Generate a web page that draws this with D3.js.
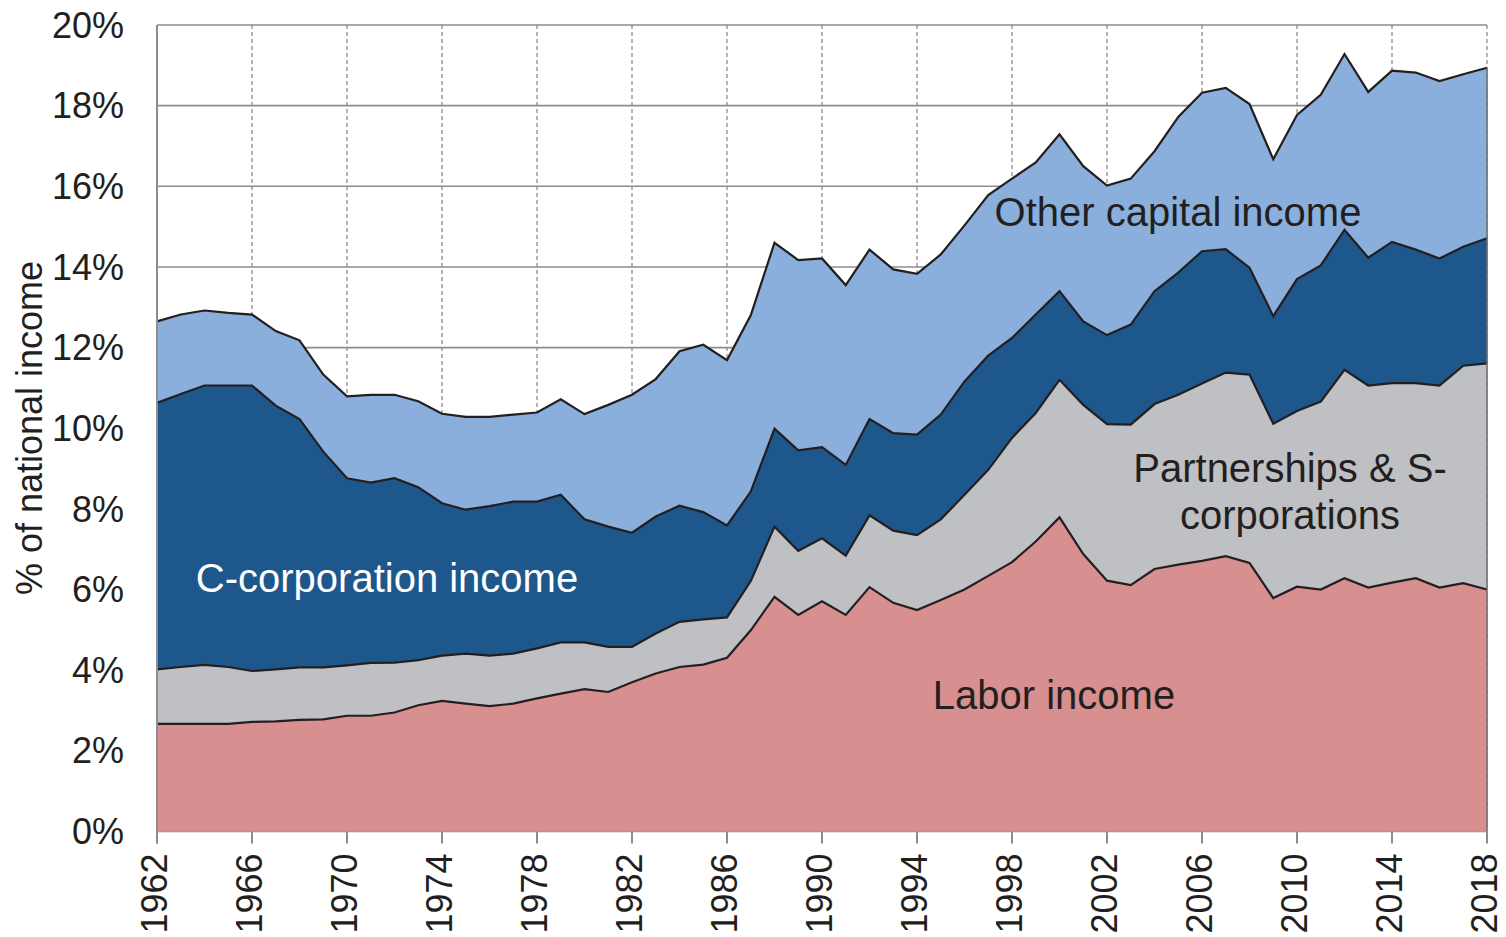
<!DOCTYPE html>
<html>
<head>
<meta charset="utf-8">
<script src="https://cdn.jsdelivr.net/npm/d3@7"></script>
<style>
  body { margin: 0; background: #fff; }
  svg { display: block; font-family: "Liberation Sans", Arial, sans-serif; }
</style>
</head>
<body>
<div id="chart"></div>
<script>

///////////////////////////////////////////////////////////////////////////
///////////////////////////////// Data ////////////////////////////////////
///////////////////////////////////////////////////////////////////////////

var years = d3.range(1962, 2019)

// share of national income, % (each layer's own thickness)
var labor = [2.67, 2.67, 2.67, 2.67, 2.72, 2.73, 2.77, 2.78, 2.87, 2.87,
  2.95, 3.13, 3.24, 3.17, 3.11, 3.17, 3.30, 3.42, 3.53, 3.46,
  3.70, 3.92, 4.08, 4.14, 4.31, 4.99, 5.82, 5.37, 5.71, 5.37,
  6.06, 5.67, 5.49, 5.74, 6.00, 6.34, 6.68, 7.19, 7.79, 6.88,
  6.22, 6.11, 6.51, 6.62, 6.71, 6.83, 6.66, 5.79, 6.07, 6.00,
  6.28, 6.05, 6.17, 6.28, 6.05, 6.16, 6.00]

var partnerships = [1.35, 1.41, 1.46, 1.41, 1.26, 1.29, 1.30, 1.29, 1.25, 1.31,
  1.24, 1.12, 1.12, 1.24, 1.25, 1.24, 1.24, 1.27, 1.16, 1.12,
  0.88, 0.99, 1.12, 1.12, 1.00, 1.22, 1.74, 1.59, 1.56, 1.47,
  1.78, 1.79, 1.86, 2.00, 2.35, 2.63, 3.08, 3.19, 3.41, 3.70,
  3.88, 3.98, 4.09, 4.21, 4.40, 4.55, 4.67, 4.32, 4.36, 4.66,
  5.17, 5.01, 4.95, 4.84, 5.01, 5.39, 5.61]

var ccorp = [6.61, 6.77, 6.93, 6.98, 7.08, 6.54, 6.16, 5.35, 4.64, 4.47,
  4.57, 4.29, 3.78, 3.57, 3.71, 3.77, 3.64, 3.66, 3.05, 2.98,
  2.83, 2.90, 2.88, 2.66, 2.28, 2.22, 2.43, 2.49, 2.26, 2.25,
  2.39, 2.42, 2.49, 2.60, 2.81, 2.83, 2.48, 2.44, 2.20, 2.07,
  2.21, 2.48, 2.80, 3.03, 3.28, 3.06, 2.65, 2.67, 3.27, 3.38,
  3.47, 3.17, 3.50, 3.31, 3.15, 2.95, 3.10]

var otherCapital = [2.02, 1.97, 1.86, 1.80, 1.76, 1.85, 1.95, 1.91, 2.03, 2.18,
  2.07, 2.13, 2.22, 2.30, 2.21, 2.16, 2.21, 2.37, 2.61, 3.02,
  3.42, 3.41, 3.83, 4.15, 4.10, 4.37, 4.61, 4.72, 4.68, 4.46,
  4.20, 4.06, 3.99, 3.97, 3.87, 3.98, 3.95, 3.77, 3.89, 3.85,
  3.71, 3.62, 3.47, 3.86, 3.93, 4.00, 4.06, 3.89, 4.07, 4.23,
  4.36, 4.11, 4.25, 4.39, 4.40, 4.28, 4.23]

var keys = ["labor", "partnerships", "ccorp", "other"]
var colors = ["#d88f90", "#bfc0c4", "#1e578c", "#8aafdc"]

var xTicks = d3.range(1962, 2019, 4)
var yTicks = d3.range(0, 21, 2)

///////////////////////////////////////////////////////////////////////////
///////////////////////////////// Setup ///////////////////////////////////
///////////////////////////////////////////////////////////////////////////

var W = 1506, H = 937
var margin = {top: 25, right: 19, bottom: 105.5, left: 157}

var svg = d3.select("#chart").append("svg")
  .attr("width", W)
  .attr("height", H)

var x = d3.scaleLinear().domain([1962, 2018]).range([margin.left, W - margin.right])
var y = d3.scaleLinear().domain([0, 20]).range([H - margin.bottom, margin.top])

var rows = years.map(function (yr, i) {
  return {year: yr, labor: labor[i], partnerships: partnerships[i], ccorp: ccorp[i], other: otherCapital[i]}
})

var series = d3.stack().keys(keys)(rows)

var gridColor = "#8d8d8f"
var textColor = "#231f20"

//////////////////////////////// Grid ////////////////////////////////////

svg.append("g").selectAll("line")
  .data(yTicks)
  .enter().append("line")
    .attr("x1", x(1962)).attr("x2", x(2018))
    .attr("y1", d => y(d)).attr("y2", d => y(d))
    .style("stroke", gridColor)
    .style("stroke-width", 1.6)

svg.append("g").selectAll("line")
  .data(xTicks.slice(1))
  .enter().append("line")
    .attr("x1", d => x(d)).attr("x2", d => x(d))
    .attr("y1", y(20)).attr("y2", y(0))
    .style("stroke", gridColor)
    .style("stroke-width", 1.3)
    .style("stroke-dasharray", "4,3")

//////////////////////////////// Areas ///////////////////////////////////

var area = d3.area()
  .x(d => x(d.data.year))
  .y0(d => y(d[0]))
  .y1(d => y(d[1]))

svg.append("g").selectAll("path")
  .data(series)
  .enter().append("path")
    .attr("d", area)
    .style("fill", (d, i) => colors[i])
    .style("stroke", (d, i) => colors[i])
    .style("stroke-width", 0.5)

var topLine = d3.line()
  .x(d => x(d.data.year))
  .y(d => y(d[1]))

svg.append("g").selectAll("path")
  .data(series)
  .enter().append("path")
    .attr("d", topLine)
    .style("fill", "none")
    .style("stroke", textColor)
    .style("stroke-width", 2.2)
    .style("stroke-linejoin", "miter")

// right edge of the stack
svg.append("line")
  .attr("x1", x(2018)).attr("x2", x(2018))
  .attr("y1", y(series[3][series[3].length - 1][1])).attr("y2", y(0))
  .style("stroke", "#6d6d6f")
  .style("stroke-width", 1.5)

//////////////////////////////// Axes ////////////////////////////////////

svg.append("line")
  .attr("x1", x(1962)).attr("x2", x(1962))
  .attr("y1", y(20)).attr("y2", y(0) + 12)
  .style("stroke", gridColor)
  .style("stroke-width", 2)

svg.append("g").selectAll("line")
  .data(xTicks)
  .enter().append("line")
    .attr("x1", d => x(d)).attr("x2", d => x(d))
    .attr("y1", y(0)).attr("y2", y(0) + 12)
    .style("stroke", gridColor)
    .style("stroke-width", 2)

svg.append("g").selectAll("text")
  .data(yTicks)
  .enter().append("text")
    .attr("x", 124)
    .attr("y", d => y(d))
    .attr("dy", "0.35em")
    .attr("text-anchor", "end")
    .style("font-size", "36px")
    .style("fill", textColor)
    .text(d => d + "%")

svg.append("g").selectAll("text")
  .data(xTicks)
  .enter().append("text")
    .attr("transform", d => "translate(" + x(d) + "," + (y(0) + 22) + ") rotate(-90)")
    .attr("dy", "0.28em")
    .attr("text-anchor", "end")
    .style("font-size", "36px")
    .style("fill", textColor)
    .text(d => d)

svg.append("text")
  .attr("transform", "translate(29," + 428 + ") rotate(-90)")
  .attr("dy", "0.35em")
  .attr("text-anchor", "middle")
  .style("font-size", "36px")
  .style("fill", textColor)
  .text("% of national income")

//////////////////////////////// Labels //////////////////////////////////

var labels = [
  {lines: ["C-corporation income"], x: 387, y: 592, color: "#ffffff"},
  {lines: ["Labor income"], x: 1054, y: 709, color: textColor},
  {lines: ["Other capital income"], x: 1178, y: 226, color: textColor},
  {lines: ["Partnerships & S-", "corporations"], x: 1290, y: 482, color: textColor}
]

labels.forEach(function (l) {
  var t = svg.append("text")
    .attr("text-anchor", "middle")
    .style("font-size", "40px")
    .style("fill", l.color)
  l.lines.forEach(function (s, i) {
    t.append("tspan").attr("x", l.x).attr("y", l.y + i * 47).text(s)
  })
})

</script>
</body>
</html>
